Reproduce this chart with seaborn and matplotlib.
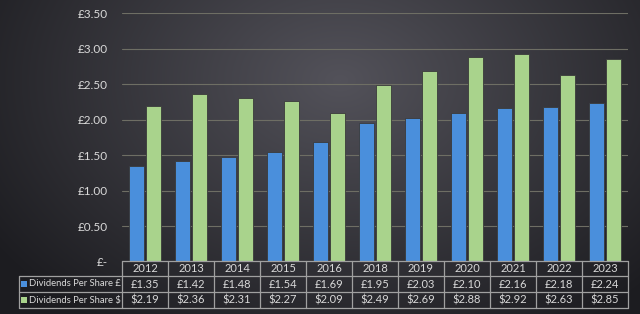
import numpy as np
import pandas as pd
import matplotlib
matplotlib.use("Agg")
import matplotlib.pyplot as plt
import seaborn as sns

years = ["2012", "2013", "2014", "2015", "2016", "2018", "2019", "2020", "2021", "2022", "2023"]
gbp = [1.35, 1.42, 1.48, 1.54, 1.69, 1.95, 2.03, 2.10, 2.16, 2.18, 2.24]
usd = [2.19, 2.36, 2.31, 2.27, 2.09, 2.49, 2.69, 2.88, 2.92, 2.63, 2.85]
series = ["Dividends Per Share £", "Dividends Per Share $"]
yticks = [0, 0.5, 1.0, 1.5, 2.0, 2.5, 3.0, 3.5]
ytick_labels = ["£-", "£0.50", "£1.00", "£1.50", "£2.00", "£2.50", "£3.00", "£3.50"]

colors = ["#4a8fdc", "#a9d38c"]
text_col = "#d9d9d9"

sns.set_theme(style="white")
plt.rcParams['font.family'] = ['Lato', 'DejaVu Sans']

W, H = 640, 314
fig = plt.figure(figsize=(W / 100, H / 100), dpi=100)

# background radial gradient
bg = fig.add_axes([0, 0, 1, 1])
yy, xx = np.mgrid[0:H, 0:W]
cx, cy = 340, 80
r = np.sqrt(((xx - cx) / 420.0) ** 2 + ((yy - cy) / 300.0) ** 2)
r = np.clip(r, 0, 1)
c_in = np.array([0x53, 0x52, 0x5a]) / 255.0
c_out = np.array([0x1c, 0x1c, 0x20]) / 255.0
img = c_in[None, None, :] * (1 - r[..., None]) + c_out[None, None, :] * r[..., None]
bg.imshow(img, aspect="auto", extent=[0, W, H, 0])
bg.set_axis_off()

def px(x0, y0, x1, y1):
    return [x0 / W, 1 - y1 / H, (x1 - x0) / W, (y1 - y0) / H]

ax = fig.add_axes(px(122, 13, 628, 262))
ax.patch.set_alpha(0)

df = pd.DataFrame({
    "year": years * 2,
    "value": gbp + usd,
    "series": [series[0]] * len(years) + [series[1]] * len(years),
})
sns.barplot(data=df, x="year", y="value", hue="series", order=years,
            hue_order=series, palette=colors, width=0.72, gap=0.1,
            edgecolor="#3a3a3a", linewidth=0.6, ax=ax, legend=False,
            saturation=1)

ax.set_ylim(0, 3.5)
ax.set_xlim(-0.5, len(years) - 0.5)
ax.set_yticks(yticks)
ax.set_yticklabels(ytick_labels, color=text_col, fontsize=8.5)
ax.set_xticks([])
ax.set_xlabel("")
ax.set_ylabel("")
ax.tick_params(axis="y", length=0, pad=10)
ax.yaxis.grid(True, color="#6e6e64", linewidth=0.8)
ax.set_axisbelow(True)
for s in ax.spines.values():
    s.set_visible(False)

# data table drawn manually
tab = fig.add_axes([0, 0, 1, 1])
tab.set_xlim(0, W)
tab.set_ylim(H, 0)
tab.set_axis_off()
tab.patch.set_alpha(0)

lc = "#a0a0a0"
x0, x1 = 122, 628
lab_x0 = 19
rows_y = [261, 276, 292, 308]
n = len(years)
cw = (x1 - x0) / n
tab.plot([x0, x1], [rows_y[0], rows_y[0]], color=lc, lw=0.9)
for yv in rows_y[1:]:
    tab.plot([lab_x0, x1], [yv, yv], color=lc, lw=0.9)
tab.plot([lab_x0, lab_x0], [rows_y[1], rows_y[3]], color=lc, lw=0.9)
for i in range(n + 1):
    xv = x0 + i * cw
    tab.plot([xv, xv], [rows_y[0], rows_y[3]], color=lc, lw=0.9)

fs = 8
for i, yr in enumerate(years):
    xc = x0 + (i + 0.5) * cw
    tab.text(xc, (rows_y[0] + rows_y[1]) / 2, yr, ha="center", va="center",
             color=text_col, fontsize=fs)
    tab.text(xc, (rows_y[1] + rows_y[2]) / 2, f"£{gbp[i]:.2f}", ha="center",
             va="center", color=text_col, fontsize=fs)
    tab.text(xc, (rows_y[2] + rows_y[3]) / 2, f"${usd[i]:.2f}", ha="center",
             va="center", color=text_col, fontsize=fs)

for k, (name, col) in enumerate(zip(series, colors)):
    yc = (rows_y[k + 1] + rows_y[k + 2]) / 2
    tab.add_patch(plt.Rectangle((21, yc - 3), 6, 6, facecolor=col,
                                edgecolor="none"))
    tab.text(29, yc, name, ha="left", va="center", color=text_col,
             fontsize=6.8)

fig.savefig("out.png", dpi=100)
